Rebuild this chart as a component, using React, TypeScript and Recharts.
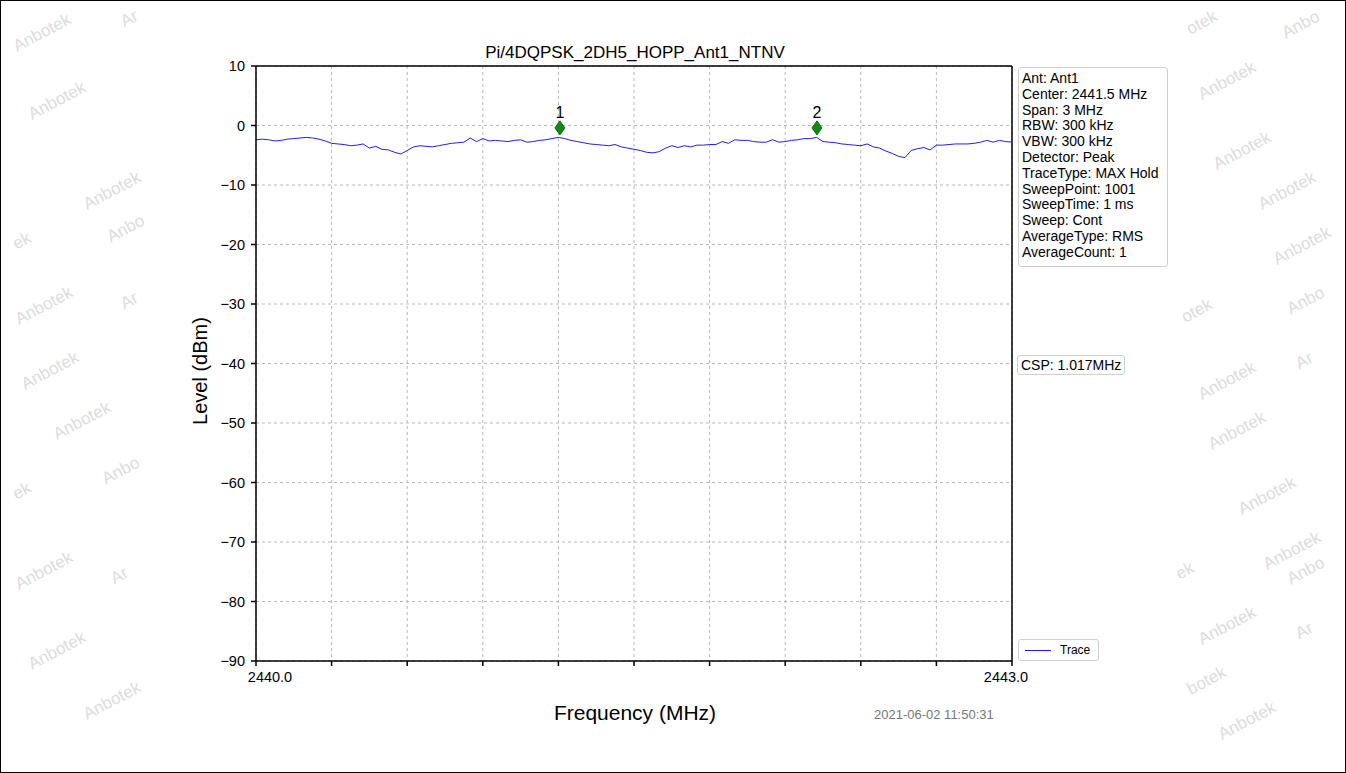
import React from "react";
import {
  CartesianGrid,
  ComposedChart,
  Line,
  ReferenceLine,
  Scatter,
  XAxis,
  YAxis,
} from "recharts";

// sweep: 2440.0 .. 2443.0 MHz, 121 points
const startFreq = 2440.0;
const sweepStep = 0.025;
const levels = [
  -2.4, -2.3, -2.4, -2.6, -2.5, -2.3, -2.2, -2.1, -2.0, -2.1, -2.3, -2.6, -3.0, -3.1, -3.2, -3.4, -3.3, -3.1, -3.8, -3.5, -4.0,
  -4.1, -4.5, -4.8, -4.2, -3.6, -3.4, -3.5, -3.6, -3.4, -3.2, -3.0, -2.9, -2.8, -2.1, -2.7, -2.2, -2.6, -2.5, -2.6, -2.7,
  -2.5, -2.4, -2.8, -2.7, -2.5, -2.4, -2.2, -2.0, -2.2, -2.5, -2.7, -2.9, -3.1, -3.2, -3.3, -3.4, -3.2, -3.6, -3.8, -4.0,
  -4.2, -4.5, -4.6, -4.4, -3.8, -3.4, -3.7, -3.4, -3.6, -3.3, -3.3, -3.2, -3.2, -2.7, -3.0, -2.4, -2.5, -2.5, -2.7, -2.8,
  -2.8, -2.4, -2.8, -2.7, -2.5, -2.4, -2.2, -2.2, -2.0, -2.7, -2.8, -2.9, -3.1, -3.2, -3.3, -3.4, -3.1, -3.6, -3.8, -4.3,
  -4.7, -5.2, -5.4, -4.2, -3.9, -3.7, -4.1, -3.3, -3.3, -3.2, -3.1, -3.1, -3.1, -3.0, -2.8, -2.5, -2.8, -2.5, -2.7, -2.8,
];

const markerNames = ["1", "2"];
const markerFreqs = [2441.206, 2442.226];
const markerLevels = [-0.4, -0.4];

const xTicks = [2440.0, 2440.3, 2440.6, 2440.9, 2441.2, 2441.5, 2441.8, 2442.1, 2442.4, 2442.7, 2443.0];
const yTicks = [-90, -80, -70, -60, -50, -40, -30, -20, -10, 0, 10];

const infoLines = [
  "Ant: Ant1",
  "Center: 2441.5 MHz",
  "Span: 3 MHz",
  "RBW: 300 kHz",
  "VBW: 300 kHz",
  "Detector: Peak",
  "TraceType: MAX Hold",
  "SweepPoint: 1001",
  "SweepTime: 1 ms",
  "Sweep: Cont",
  "AverageType: RMS",
  "AverageCount: 1",
];

const watermarks: [number, number, string][] = [
  [40, 32, "Anbotek"], [150, 18, "Ar"], [55, 100, "Anbotek"], [110, 190, "Anbotek"],
  [135, 228, "Anbo"], [42, 240, "ek"], [42, 305, "Anbotek"], [150, 300, "Ar"],
  [48, 370, "Anbotek"], [80, 420, "Anbotek"], [130, 470, "Anbo"], [42, 490, "ek"],
  [42, 570, "Anbotek"], [140, 575, "Ar"], [55, 650, "Anbotek"], [110, 700, "Anbotek"],
  [1215, 22, "otek"], [1310, 24, "Anbo"], [1225, 80, "Anbotek"], [1240, 150, "Anbotek"],
  [1285, 190, "Anbotek"], [1300, 245, "Anbotek"], [1210, 310, "otek"], [1315, 300, "Anbo"],
  [1225, 380, "Anbotek"], [1325, 360, "Ar"], [1235, 430, "Anbotek"], [1265, 495, "Anbotek"],
  [1290, 550, "Anbotek"], [1205, 570, "ek"], [1315, 570, "Anbo"], [1225, 625, "Anbotek"],
  [1325, 630, "Ar"], [1215, 680, "botek"], [1245, 720, "Anbotek"],
];

const traceData = levels.map((level, i) => ({ freq: startFreq + i * sweepStep, level }));
const markerData = markerNames.map((name, i) => ({ name, freq: markerFreqs[i], level: markerLevels[i] }));

const fmtY = (v: number) => (v < 0 ? "\u2212" + Math.abs(v) : String(v));

const XTick = (props: any) => {
  const { x, y, payload } = props;
  const v = payload.value as number;
  let label = "";
  let dx = 0;
  if (Math.abs(v - 2440) < 1e-6) {
    label = v.toFixed(1);
    dx = 14;
  } else if (Math.abs(v - 2443) < 1e-6) {
    label = v.toFixed(1);
    dx = -6;
  }
  if (!label) return null;
  return (
    <text x={x + dx} y={y + 4} dy="0.71em" textAnchor="middle" fontSize={14.5} fill="#000">
      {label}
    </text>
  );
};

const MarkerShape = (props: any) => {
  const { cx, cy, payload } = props;
  return (
    <g>
      <polygon
        points={`${cx},${cy - 7} ${cx + 5},${cy} ${cx},${cy + 7} ${cx - 5},${cy}`}
        fill="#138a13"
        stroke="#0c6e0c"
      />
      <text x={cx} y={cy - 10} textAnchor="middle" fontSize={16} fill="#000">
        {payload.name}
      </text>
    </g>
  );
};

const font = "'Liberation Sans', Arial, sans-serif";

export default function App() {
  return (
    <div
      style={{
        position: "absolute",
        left: 0,
        top: 0,
        width: 1346,
        height: 773,
        background: "#fff",
        fontFamily: font,
        border: "1px solid #000",
        boxSizing: "border-box",
        overflow: "hidden",
      }}
    >
      {watermarks.map(([x, y, t], i) => (
        <div
          key={i}
          style={{
            position: "absolute",
            left: x - 30,
            top: y - 10,
            fontSize: 17,
            color: "#dcdcdc",
            transform: "rotate(-28deg)",
            whiteSpace: "nowrap",
          }}
        >
          {t}
        </div>
      ))}
      <div style={{ position: "absolute", left: -1, top: -1 }}>
        <ComposedChart
          width={1346}
          height={773}
          margin={{ top: 66, right: 334, bottom: 82, left: 196 }}
          style={{ fontFamily: font }}
        >
          <CartesianGrid stroke="#b8b8b8" strokeDasharray="3 3" />
          <XAxis
            dataKey="freq"
            type="number"
            domain={[2440, 2443]}
            ticks={xTicks}
            tick={<XTick />}
            interval={0}
            height={30}
            tickSize={5}
            stroke="#000"
            strokeWidth={1.5}
            allowDataOverflow
          />
          <YAxis
            type="number"
            domain={[-90, 10]}
            ticks={yTicks}
            tickFormatter={fmtY}
            interval={0}
            width={60}
            tickSize={5}
            tickMargin={6}
            stroke="#000"
            strokeWidth={1.5}
            tick={{ fill: "#000", fontSize: 14.5 }}
            allowDataOverflow
          />
          <ReferenceLine y={10} stroke="#000" strokeWidth={1.5} />
          <ReferenceLine x={2443} stroke="#000" strokeWidth={1.5} />
          <Line
            data={traceData}
            dataKey="level"
            type="linear"
            stroke="#1f1fe6"
            strokeWidth={1}
            dot={false}
            isAnimationActive={false}
          />
          <Scatter data={markerData} dataKey="level" shape={MarkerShape} isAnimationActive={false} />
        </ComposedChart>
      </div>

      <div style={{ position: "absolute", left: 0, width: 1268, top: 42, textAlign: "center", fontSize: 17 }}>
        Pi/4DQPSK_2DH5_HOPP_Ant1_NTNV
      </div>
      <div style={{ position: "absolute", left: 0, width: 1268, top: 700, textAlign: "center", fontSize: 21 }}>
        Frequency (MHz)
      </div>
      <div
        style={{
          position: "absolute",
          left: 199,
          top: 370,
          fontSize: 20,
          whiteSpace: "nowrap",
          transform: "translate(-50%, -50%) rotate(-90deg)",
        }}
      >
        Level (dBm)
      </div>
      <div style={{ position: "absolute", left: 873, top: 706, fontSize: 13, color: "#777" }}>
        2021-06-02 11:50:31
      </div>

      <div
        style={{
          position: "absolute",
          left: 1017,
          top: 66,
          width: 150,
          padding: "3px 0 5px 3px",
          border: "1px solid #cfcfcf",
          borderRadius: 3,
          fontSize: 14,
          lineHeight: "15.8px",
          boxSizing: "border-box",
          background: "#fff",
        }}
      >
        {infoLines.map((l) => (
          <div key={l} style={{ whiteSpace: "nowrap" }}>{l}</div>
        ))}
      </div>
      <div
        style={{
          position: "absolute",
          left: 1016,
          top: 354,
          padding: "1px 3px",
          border: "1px solid #cfcfcf",
          borderRadius: 3,
          fontSize: 14,
          background: "#fff",
        }}
      >
        CSP: 1.017MHz
      </div>
      <div
        style={{
          position: "absolute",
          left: 1017,
          top: 638,
          width: 81,
          height: 22,
          border: "1px solid #cfcfcf",
          borderRadius: 3,
          boxSizing: "border-box",
          background: "#fff",
        }}
      >
        <div style={{ position: "absolute", left: 6, top: 10, width: 26, height: 0, borderTop: "1.5px solid #1f1fe6" }} />
        <div style={{ position: "absolute", left: 41, top: 3, fontSize: 12 }}>Trace</div>
      </div>
    </div>
  );
}
